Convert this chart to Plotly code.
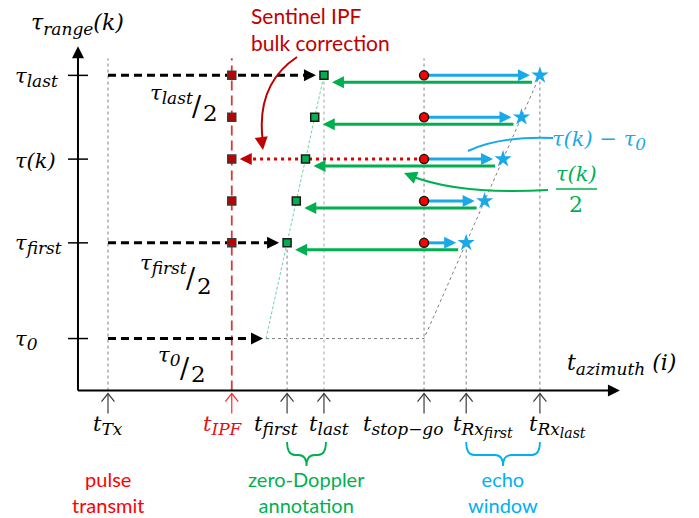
import plotly.graph_objects as go

# ---------------- timing model (arbitrary time units) ----------------
T_TX = 0.0                                  # pulse transmission
T_IPF = 2.35                                # IPF reference time (bulk correction)
TAU_0 = 6.0                                 # shortest two-way range delay
TAU_ROWS = [6.8, 7.15, 7.5, 7.85, 8.2]      # tau_first ... tau_last
ROW_K = 2                                   # row drawn as tau(k)

T_STOP_GO = T_TX + TAU_0
T_FIRST = T_TX + TAU_ROWS[0] / 2
T_LAST = T_TX + TAU_ROWS[-1] / 2
T_RX_FIRST = T_TX + TAU_ROWS[0]
T_RX_LAST = T_TX + TAU_ROWS[-1]

ZD_TIMES = [T_TX + tau / 2 for tau in TAU_ROWS]   # zero-Doppler annotation times
RX_TIMES = [T_TX + tau for tau in TAU_ROWS]       # echo reception times


def sub(s, size=17):
    return f"<sub><span style='font-size:{size}px'>{s}</span></sub>"


AZ_TICKS = [T_TX, T_IPF, T_FIRST, T_LAST, T_STOP_GO, T_RX_FIRST, T_RX_LAST]
AZ_LABELS = ["t" + sub("Tx"), "t" + sub("IPF"), "t" + sub("first"), "t" + sub("last"),
             "t" + sub("stop−go"),
             "t<sub><span style='font-size:17px'>Rx</span>" + sub("first", 14) + "</sub>",
             "t<sub><span style='font-size:17px'>Rx</span>" + sub("last", 14) + "</sub>"]
RANGE_TICKS = [TAU_ROWS[-1], TAU_ROWS[ROW_K], TAU_ROWS[0], TAU_0]
RANGE_LABELS = ["τ" + sub("last"), "τ(k)", "τ" + sub("first"), "τ" + sub("0")]

# ---------------- canvas / unit helpers ----------------
W, H = 699, 518
X_RANGE = [-2.05, 11.22]
Y_RANGE = [4.50, 8.83]
SX = W / (X_RANGE[1] - X_RANGE[0])
SY = H / (Y_RANGE[1] - Y_RANGE[0])


def dx(p):
    return p / SX


def dy(p):
    return p / SY


def X(px):
    return X_RANGE[0] + px / SX


def Y(py):
    return Y_RANGE[1] - py / SY


SERIF = "DejaVu Serif"
SANS = "Lato"
BLACK = "#000000"
GRAY = "#7f7f7f"
RED_DARK = "#c00000"
RED = "#ff0000"
RED_LINE = "#d23c3c"
GREEN = "#00b050"
BLUE = "#1aa9e8"
BLUE_TXT = "#00b0f0"

AX_X0 = T_TX - dx(30)
AX_Y0 = TAU_0 - dy(52)
AX_XTIP = T_RX_LAST + dx(83)
AX_YTIP = TAU_ROWS[-1] + dy(32)
TOP_REF = TAU_ROWS[-1] + dy(17)

fig = go.Figure()
annotations = []
shapes = []


def line(xs, ys, color, width, dash="solid"):
    fig.add_trace(go.Scatter(x=xs, y=ys, mode="lines", hoverinfo="skip",
                             line=dict(color=color, width=width, dash=dash)))


def head(x, y, ux, uy, color, width=3, size=0.8, tail=6):
    # arrow head at (x, y) pointing along pixel direction (ux, uy), y down
    annotations.append(dict(x=x, y=y, xref="x", yref="y", text="", showarrow=True,
                            ax=-ux * tail, ay=-uy * tail, axref="pixel", ayref="pixel",
                            arrowhead=2, arrowsize=size, arrowwidth=width,
                            arrowcolor=color, standoff=0))


def text(x, y, s, size, color=BLACK, family=SERIF, style="italic",
         xanchor="center", yanchor="middle", align="center"):
    annotations.append(dict(x=x, y=y, xref="x", yref="y", text=s, showarrow=False,
                            xanchor=xanchor, yanchor=yanchor, align=align,
                            font=dict(family=family, size=size, color=color, style=style)))


# ---------------- reference guides ----------------
guides = [(T_TX, TOP_REF, GRAY), (T_FIRST, TAU_ROWS[0], GRAY), (T_LAST, TAU_ROWS[-1], "#b5b5b5"),
          (T_STOP_GO, TOP_REF, GRAY), (T_RX_FIRST, TAU_ROWS[0], GRAY), (T_RX_LAST, TAU_ROWS[-1], GRAY)]
for gx, gtop, gc in guides:
    line([gx, gx], [AX_Y0, gtop], gc, 1.2 if gc != GRAY else 1, "3px,3px")

# echo window edge: stop-go start, then delay line through the echoes
line([T_TX + TAU_0 / 2, T_STOP_GO] + RX_TIMES[-1:], [TAU_0, TAU_0, TAU_ROWS[-1]], GRAY, 1, "3px,3px")

# zero-Doppler locus
line([T_TX + TAU_0 / 2] + ZD_TIMES, [TAU_0] + TAU_ROWS, "#6fd3a0", 1, "3px,2px")

# IPF reference time
line([T_IPF, T_IPF], [AX_Y0, TOP_REF], RED_LINE, 1.8, "10px,5px")

# ---------------- half-delay arrows from transmit ----------------
for tau, has_sq in [(TAU_ROWS[-1], True), (TAU_ROWS[0], True), (TAU_0, False)]:
    end = T_TX + tau / 2 - dx(8 if has_sq else 3)
    line([T_TX, end - dx(6)], [tau, tau], BLACK, 3, "8px,5px")
    head(end, tau, 1, 0, BLACK)

# bulk correction: stop-go back to IPF time
tk = TAU_ROWS[ROW_K]
line([T_STOP_GO, T_IPF + dx(12)], [tk, tk], "#e00000", 3, "3px,4px")
head(T_IPF + dx(8), tk, -1, 0, RED_DARK)

# echo delay (blue) and half-delay (green) arrows
for tau, rx, zd in zip(TAU_ROWS, RX_TIMES, ZD_TIMES):
    line([T_STOP_GO, rx - dx(14)], [tau, tau], BLUE, 3)
    head(rx - dx(10), tau, 1, 0, BLUE)
    gy = tau - dy(7)
    line([rx - dx(8), zd + dx(14)], [gy, gy], GREEN, 3)
    head(zd + dx(8), gy, -1, 0, GREEN)

# ---------------- markers ----------------
fig.add_trace(go.Scatter(x=[T_IPF] * len(TAU_ROWS), y=TAU_ROWS, mode="markers", hoverinfo="skip",
                         marker=dict(symbol="square", size=8, color=RED_DARK,
                                     line=dict(color="#3a3a3a", width=1.5))))
fig.add_trace(go.Scatter(x=ZD_TIMES, y=TAU_ROWS, mode="markers", hoverinfo="skip",
                         marker=dict(symbol="square", size=8, color=GREEN,
                                     line=dict(color="#1a1a1a", width=1.5))))
fig.add_trace(go.Scatter(x=[T_STOP_GO] * len(TAU_ROWS), y=TAU_ROWS, mode="markers", hoverinfo="skip",
                         marker=dict(symbol="circle", size=9, color=RED,
                                     line=dict(color="#1a1a1a", width=1.5))))
fig.add_trace(go.Scatter(x=RX_TIMES, y=TAU_ROWS, mode="markers", hoverinfo="skip",
                         marker=dict(symbol="star", size=13, color=BLUE, line=dict(width=0))))

# ---------------- axes ----------------
line([AX_X0, AX_XTIP - dx(8)], [AX_Y0, AX_Y0], BLACK, 2)
head(AX_XTIP - dx(3), AX_Y0, 1, 0, BLACK, width=2, size=1.2, tail=8)
line([AX_X0, AX_X0], [AX_Y0, AX_YTIP - dy(8)], BLACK, 2)
head(AX_X0, AX_YTIP - dy(3), 0, -1, BLACK, width=2, size=1.2, tail=8)

# range ticks
for tau, lab in zip(RANGE_TICKS, RANGE_LABELS):
    line([AX_X0 - dx(10), AX_X0 + dx(10)], [tau, tau], BLACK, 1.5)
    text(X(13), tau - dy(2), lab, 21, xanchor="left")

# azimuth tick arrows (open chevrons)
label_shift = [0, -9, -11, 5, -21, 17, 18]
for i, (t, lab) in enumerate(zip(AZ_TICKS, AZ_LABELS)):
    c = "#ff2a2a" if i == 1 else "#3c3c3c"
    top = AX_Y0 - dy(3)
    line([t, t], [top, top - dy(20)], c, 1.2)
    line([t - dx(6.5), t, t + dx(6.5)], [top - dy(8), top, top - dy(8)], c, 1.2)
    text(t + dx(label_shift[i]), AX_Y0 - dy(19), lab, 21,
         color="#e01010" if i == 1 else BLACK, yanchor="top")

# axis titles
text(X(29), Y(24), "τ" + sub("range") + "(k)", 22, xanchor="left")
text(X(565), Y(364), "t" + sub("azimuth") + " (i)", 22, xanchor="left")

# half-delay labels
for num, sx_px, ny_px, dy_px in [("τ" + sub("last"), 192, 94, 113),
                                  ("τ" + sub("first"), 186, 264, 286),
                                  ("τ" + sub("0"), 180, 356, 374)]:
    text(X(sx_px + 3), Y(ny_px), num, 21, xanchor="right")
    text(X(sx_px + 5), Y((ny_px + dy_px) / 2 + 3), "/", 27, style="normal")
    text(X(sx_px + 9), Y(dy_px), "2", 23, style="normal", xanchor="left")


# ---------------- callouts ----------------
def curve(pts, color):
    (x0, y0), (cx, cy), (x1, y1) = pts
    shapes.append(dict(type="path", xref="x", yref="y",
                       path=f"M {X(x0)},{Y(y0)} Q {X(cx)},{Y(cy)} {X(x1)},{Y(y1)}",
                       line=dict(color=color, width=2)))
    ux, uy = x1 - cx, y1 - cy
    n = (ux ** 2 + uy ** 2) ** 0.5
    return ux / n, uy / n


ux, uy = curve([(297, 57), (255, 85), (263, 143)], RED_DARK)
head(X(263), Y(150), ux, uy, RED_DARK, width=2, size=1.3, tail=5)
text(X(249), Y(29), "Sentinel IPF<br>bulk correction", 21, color=RED_DARK, family=SANS,
     style="normal", xanchor="left", align="left")

ux, uy = curve([(553, 138), (500, 136), (468, 151)], BLUE)
head(X(462), Y(154), ux, uy, BLUE, width=2, size=1.3, tail=5)
text(X(599), Y(140), "τ(k) − τ" + sub("0"), 21, color=BLUE)

ux, uy = curve([(548, 190), (460, 195), (411, 176)], GREEN)
head(X(404), Y(173), ux, uy, GREEN, width=2, size=1.3, tail=5)
text(X(576), Y(174), "τ(k)", 21, color=GREEN)
shapes.append(dict(type="line", xref="x", yref="y", x0=X(556), x1=X(597), y0=Y(189), y1=Y(189),
                   line=dict(color=GREEN, width=1.5)))
text(X(576), Y(204), "2", 22, color=GREEN, style="normal")


# braces under the tick labels
def brace(x0, x1, color):
    top, mid, tip, r = 442, 455, 466, 8
    p0 = (x0 - X_RANGE[0]) * SX
    p1 = (x1 - X_RANGE[0]) * SX
    c = (p0 + p1) / 2
    pts = (f"M {X(p0)},{Y(top)} Q {X(p0)},{Y(mid)} {X(p0 + r)},{Y(mid)} "
           f"L {X(c - r)},{Y(mid)} Q {X(c)},{Y(mid)} {X(c)},{Y(tip)} "
           f"Q {X(c)},{Y(mid)} {X(c + r)},{Y(mid)} L {X(p1 - r)},{Y(mid)} "
           f"Q {X(p1)},{Y(mid)} {X(p1)},{Y(top)}")
    shapes.append(dict(type="path", xref="x", yref="y", path=pts, line=dict(color=color, width=1.8)))
    return (x0 + x1) / 2


gc = brace(T_FIRST, T_LAST + dx(2), GREEN)
bc = brace(T_RX_FIRST, T_RX_LAST, BLUE_TXT)
text(T_TX, Y(492), "pulse<br>transmit", 20, color=RED, family=SANS, style="normal")
text(gc, Y(492), "zero-Doppler<br>annotation", 20, color=GREEN, family=SANS, style="normal")
text(bc, Y(492), "echo<br>window", 20, color=BLUE_TXT, family=SANS, style="normal")

fig.update_layout(
    width=W, height=H, margin=dict(l=0, r=0, t=0, b=0),
    paper_bgcolor="white", plot_bgcolor="white", showlegend=False,
    xaxis=dict(range=X_RANGE, visible=False, fixedrange=True),
    yaxis=dict(range=Y_RANGE, visible=False, fixedrange=True),
    annotations=annotations, shapes=shapes,
)
fig.write_html("out.html")
